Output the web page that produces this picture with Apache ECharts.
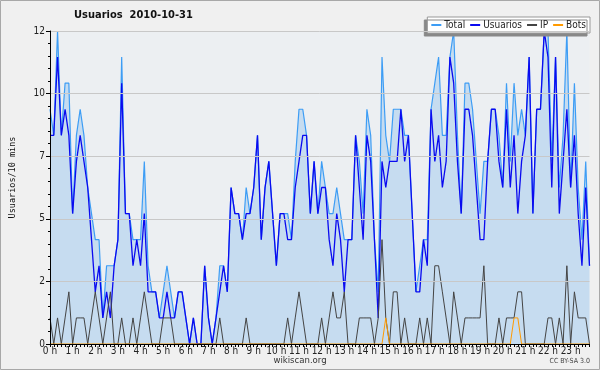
<!DOCTYPE html>
<html><head><meta charset="utf-8">
<script src="https://cdn.jsdelivr.net/npm/echarts@6/dist/echarts.min.js"></script>
<style>html,body{margin:0;padding:0;background:#f0f0f0}#c{width:600px;height:370px}</style>
</head><body><div id="c"></div>
<script>
const titleText = 'Usuarios  2010-10-31';
const yAxisName = 'Usuarios/10 mins';
const legendNames = ['Total', 'Usuarios', 'IP', 'Bots'];
const hourLabels = Array.from({length: 24}, (_, h) => h + ' h');
// 144 ten-minute slots
const total = [9,8,12,8,10,10,5,8,9,8,6,5,4,4,1,3,3,3,4,11,5,5,4,4,4,7,3,2,2,1,2,3,2,1,2,2,1,0,1,0,0,3,1,0,1,3,3,2,6,5,5,4,6,5,6,8,4,6,7,5,3,5,5,5,4,7,9,9,8,5,7,5,7,6,5,5,6,5,4,4,4,8,7,5,9,8,4,2,11,8,7,9,9,9,8,8,5,2,3,4,4,9,10,11,8,8,11,12,8,5,10,10,9,7,5,7,7,9,9,8,6,10,7,10,8,9,8,11,5,9,9,12,12,7,11,6,8,12,6,10,6,4,7,3];
const usuarios = [8,8,11,8,9,8,5,7,8,7,6,4,2,3,1,2,1,3,4,10,5,5,3,4,3,5,2,2,2,1,1,2,1,1,2,2,1,0,1,0,0,3,1,0,1,2,3,2,6,5,5,4,5,5,6,8,4,6,7,5,3,5,5,4,4,6,7,8,8,5,7,5,6,6,4,3,5,4,2,4,4,8,6,4,8,7,4,1,7,6,7,7,7,9,7,8,5,2,2,4,3,9,7,8,6,7,11,10,7,5,9,9,8,6,4,4,7,9,9,7,6,9,6,8,5,7,8,11,5,9,9,12,11,6,11,5,7,9,6,8,5,3,6,3];
const ip = [1,0,1,0,1,2,0,1,1,1,0,1,2,1,0,1,2,0,0,1,0,0,1,0,1,2,1,0,0,0,1,1,1,0,0,0,0,0,0,0,0,0,0,0,0,1,0,0,0,0,0,0,1,0,0,0,0,0,0,0,0,0,0,1,0,1,2,1,0,0,0,0,1,0,1,2,1,1,2,0,0,0,1,1,1,1,0,1,4,1,0,2,2,0,1,0,0,0,1,0,1,0,3,3,2,1,0,2,1,0,1,1,1,1,1,3,0,0,0,1,0,1,1,1,2,2,0,0,0,0,0,0,1,1,0,1,0,3,0,2,1,1,1,0];
const bots = [0,0,0,0,0,0,0,0,0,0,0,0,0,0,0,0,0,0,0,0,0,0,0,0,0,0,0,0,0,0,0,0,0,0,0,0,0,0,0,0,0,0,0,0,0,0,0,0,0,0,0,0,0,0,0,0,0,0,0,0,0,0,0,0,0,0,0,0,0,0,0,0,0,0,0,0,0,0,0,0,0,0,0,0,0,0,0,0,0,1,0,0,0,0,0,0,0,0,0,0,0,0,0,0,0,0,0,0,0,0,0,0,0,0,0,0,0,0,0,0,0,0,0,1,1,0,0,0,0,0,0,0,0,0,0,0,0,0,0,0,0,0,0,0];

const slots = total.map((_, i) => i);
const chart = echarts.init(document.getElementById('c'), null, {renderer: 'canvas'});
const baseFont = 'DejaVu Sans Condensed';
chart.setOption({
  animation: false,
  backgroundColor: '#f0f0f0',
  title: {
    text: titleText, left: 74, top: 10, padding: 0,
    textStyle: {fontFamily: baseFont, fontWeight: 'bold', fontSize: 11, color: '#111'}
  },
  legend: {
    data: legendNames, right: 10, top: 17,
    padding: [3, 4], itemGap: 5, itemWidth: 10, itemHeight: 2, icon: 'rect',
    backgroundColor: '#ffffff', borderColor: '#999', borderWidth: 1, borderRadius: 0,
    shadowColor: '#888', shadowOffsetX: -3, shadowOffsetY: 3, shadowBlur: 0,
    textStyle: {fontFamily: baseFont, fontSize: 10, color: '#222', padding: [0, 0, 0, -2]}
  },
  grid: {left: 46, right: 10.5, top: 31, bottom: 26, show: true, backgroundColor: '#eceff2', borderWidth: 0},
  xAxis: {
    type: 'category', data: slots, boundaryGap: false, z: 5,
    axisLine: {lineStyle: {color: '#000', width: 1}},
    axisTick: {interval: 0, length: 3, lineStyle: {color: '#000'}},
    axisLabel: {
      interval: 5, margin: 2, fontFamily: baseFont, fontSize: 10, color: '#222',
      formatter: (v, i) => hourLabels[Math.floor(i / 6)]
    },
    splitLine: {show: false}
  },
  yAxis: {
    type: 'value', min: 0, max: 12, interval: 2.4, z: 5,
    name: yAxisName, nameLocation: 'middle', nameGap: 33, nameRotate: 90,
    nameTextStyle: {fontFamily: 'DejaVu Sans Mono', fontSize: 8.5, color: '#111', padding: [0, 0, 0, 20]},
    axisLine: {show: true, lineStyle: {color: '#000', width: 1}},
    axisTick: {show: true, length: 4, lineStyle: {color: '#000'}},
    minorTick: {show: true, splitNumber: 5, length: 2, lineStyle: {color: '#000'}},
    axisLabel: {margin: 5, fontFamily: baseFont, fontSize: 10, color: '#222', formatter: v => String(Math.round(v))},
    splitLine: {show: true, lineStyle: {color: '#c8c8c8', width: 1}}
  },
  series: [
    {name: 'Total', type: 'line', data: total, showSymbol: false, symbol: 'none',
      lineStyle: {color: '#3d9df5', width: 1.2}, itemStyle: {color: '#3d9df5'},
      areaStyle: {color: '#c6dcf0', opacity: 1}},
    {name: 'Usuarios', type: 'line', data: usuarios, showSymbol: false, symbol: 'none',
      lineStyle: {color: '#0a0af0', width: 1.3}, itemStyle: {color: '#0a0af0'}},
    {name: 'IP', type: 'line', data: ip, showSymbol: false, symbol: 'none',
      lineStyle: {color: '#444', width: 1}, itemStyle: {color: '#444'}},
    {name: 'Bots', type: 'line', data: bots, showSymbol: false, symbol: 'none',
      lineStyle: {color: '#ff9a00', width: 1}, itemStyle: {color: '#ff9a00'}}
  ],
  graphic: [
    {type: 'rect', shape: {x: 0.5, y: 0.5, width: 599, height: 369}, style: {fill: 'none', stroke: '#a8a8a8', lineWidth: 1}, silent: true},
    {type: 'text', left: 'center', top: 356, style: {text: 'wikiscan.org', font: '9.5px "DejaVu Sans Condensed"', fill: '#333'}},
    {type: 'text', right: 10, top: 358, style: {text: 'CC BY-SA 3.0', font: '7px "DejaVu Sans Condensed"', fill: '#444'}}
  ]
});
</script></body></html>
